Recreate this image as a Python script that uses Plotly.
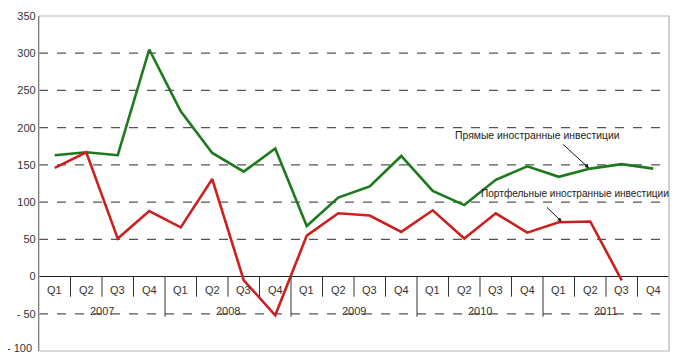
import plotly.graph_objects as go

quarters = ["Q1", "Q2", "Q3", "Q4"]
years = ["2007", "2008", "2009", "2010", "2011"]
direct = [163, 167, 163, 305, 222, 166, 141, 172, 68, 106, 121, 162, 115, 96, 130, 148, 134, 145, 151, 145]
portfolio = [146, 167, 51, 88, 66, 131, -5, -52, 55, 85, 82, 60, 89, 51, 85, 59, 73, 74, -5, None]
ytick_vals = [-50, 0, 50, 100, 150, 200, 250, 300, 350]
ytick_text = ["- 50", "0", "50", "100", "150", "200", "250", "300", "350"]
ymin_label = "- 100"
grid_vals = [-50, 50, 100, 150, 200, 250, 300]
label_direct = "Прямые иностранные инвестиции"
label_portfolio = "Портфельные иностранные инвестиции"

n = len(quarters) * len(years)
xs = [i + 0.5 for i in range(n)]

fig = go.Figure()
fig.add_trace(go.Scatter(x=xs, y=direct, mode="lines",
                         line=dict(color="#1c7a1c", width=2.6), name=label_direct))
fig.add_trace(go.Scatter(x=xs, y=portfolio, mode="lines",
                         line=dict(color="#cc1f1f", width=2.6), name=label_portfolio))

shapes = []
for g in grid_vals:
    shapes.append(dict(type="line", xref="x", yref="y", x0=0, x1=n, y0=g, y1=g,
                       line=dict(color="#555555", width=1.2, dash="dash"), layer="below"))
# plot border
shapes.append(dict(type="rect", xref="paper", yref="paper", x0=0, x1=1, y0=0, y1=1,
                   line=dict(color="#b5b5b5", width=1.2)))
# category separators
for i in range(1, n):
    bottom = -54 if i % 4 == 0 else -27
    shapes.append(dict(type="line", xref="x", yref="y", x0=i, x1=i, y0=0, y1=bottom,
                       line=dict(color="#333333", width=1)))

annotations = []
for i in range(n):
    annotations.append(dict(x=i + 0.5, y=-18, xref="x", yref="y", text=quarters[i % 4],
                            showarrow=False, font=dict(size=11, color="#333333")))
for j, yr in enumerate(years):
    annotations.append(dict(x=j * 4 + 2, y=-46, xref="x", yref="y", text=yr,
                            showarrow=False, font=dict(size=11, color="#333333")))
# bottom y label (kept inside the page)
annotations.append(dict(x=0, y=-100, xref="paper", yref="y", text=ymin_label,
                        showarrow=False, xanchor="right", yanchor="middle",
                        xshift=-5, yshift=3, font=dict(size=11, color="#333333")))
# series labels with arrows
annotations.append(dict(x=15.83, y=189, xref="x", yref="y", text=label_direct,
                        showarrow=False, font=dict(size=10.4, color="#222222")))
annotations.append(dict(x=17.46, y=145.6, xref="x", yref="y", ax=16.59, ay=179.4,
                        axref="x", ayref="y", text="", showarrow=True, arrowhead=2,
                        arrowsize=0.8, arrowwidth=1, arrowcolor="#111111"))
annotations.append(dict(x=17.02, y=111, xref="x", yref="y", text=label_portfolio,
                        showarrow=False, font=dict(size=10.1, color="#222222")))
annotations.append(dict(x=16.59, y=73.8, xref="x", yref="y", ax=16.08, ay=94.9,
                        axref="x", ayref="y", text="", showarrow=True, arrowhead=2,
                        arrowsize=0.8, arrowwidth=1, arrowcolor="#111111"))

fig.update_layout(
    width=662, height=345,
    margin=dict(l=31, r=1, t=8, b=2),
    paper_bgcolor="white", plot_bgcolor="white",
    showlegend=False,
    font=dict(family="Liberation Sans, Arial, sans-serif", size=11, color="#333333"),
    xaxis=dict(range=[0, n], showgrid=False, zeroline=False, showticklabels=False,
               showline=False, ticks="", automargin=False),
    yaxis=dict(range=[-100, 350], tickvals=ytick_vals, ticktext=ytick_text,
               showgrid=False, zeroline=True, zerolinecolor="#222222", zerolinewidth=1.2,
               showline=True, linecolor="#333333", linewidth=1.2, ticks="",
               ticklabeloverflow="allow",
               automargin=False, tickfont=dict(size=11, color="#333333")),
    shapes=shapes,
    annotations=annotations,
)
fig.write_html("out.html")
